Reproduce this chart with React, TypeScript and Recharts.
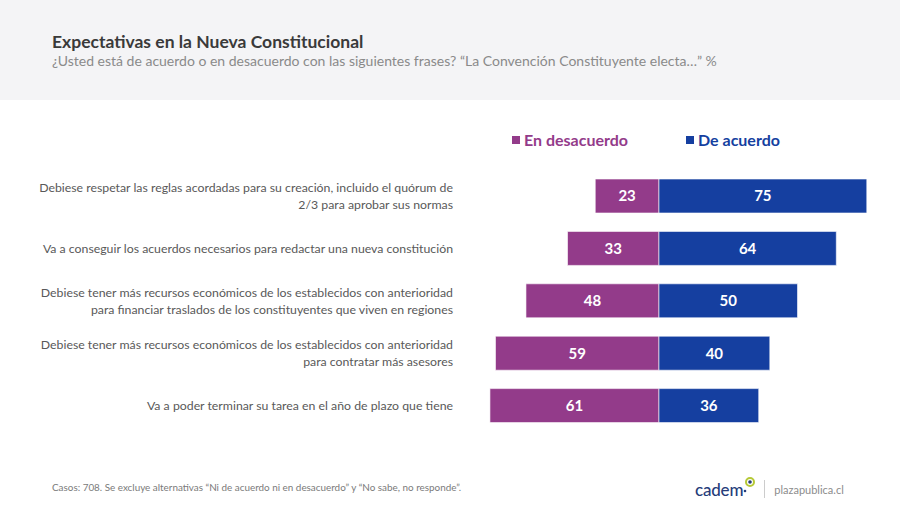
import React from 'react';
import { BarChart, Bar, XAxis, YAxis, LabelList, Legend } from 'recharts';

const categories: string[] = [
  'Debiese respetar las reglas acordadas para su creación, incluido el quórum de|2/3 para aprobar sus normas',
  'Va a conseguir los acuerdos necesarios para redactar una nueva constitución',
  'Debiese tener más recursos económicos de los establecidos con anterioridad|para financiar traslados de los constituyentes que viven en regiones',
  'Debiese tener más recursos económicos de los establecidos con anterioridad|para contratar más asesores',
  'Va a poder terminar su tarea en el año de plazo que tiene',
];
const desacuerdoValues: number[] = [23, 33, 48, 59, 61];
const acuerdoValues: number[] = [75, 64, 50, 40, 36];
const seriesNames = { desacuerdo: 'En desacuerdo', acuerdo: 'De acuerdo' };
const legendOrder = [seriesNames.desacuerdo, seriesNames.acuerdo];

const MAGENTA = '#933B8A';
const BLUE = '#153FA0';
const FONT = 'Lato, "Open Sans", sans-serif';

const data = categories.map((c, i) => ({
  name: c,
  desacuerdo: -desacuerdoValues[i],
  acuerdo: acuerdoValues[i],
}));

const CategoryTick = (props: any) => {
  const { x, y, payload } = props;
  const lines: string[] = String(payload.value).split('|');
  const lh = 17;
  const start = y - ((lines.length - 1) * lh) / 2;
  return (
    <text x={x - 4} y={start} textAnchor="end" fill="#595959" fontSize={12.3} fontFamily={FONT}>
      {lines.map((l, i) => (
        <tspan key={i} x={x - 4} y={start + i * lh} dy="0.36em">
          {l}
        </tspan>
      ))}
    </text>
  );
};

const LegendContent = (props: any) => {
  const payload = [...(props.payload || [])].sort(
    (a: any, b: any) => legendOrder.indexOf(a.value) - legendOrder.indexOf(b.value)
  );
  return (
    <div style={{ display: 'flex', fontFamily: FONT, fontWeight: 700, fontSize: 16 }}>
      {payload.map((p: any, i: number) => (
        <div key={i} style={{ display: 'flex', alignItems: 'center', marginRight: i === 0 ? 58 : 0, color: p.color }}>
          <span style={{ display: 'inline-block', width: 8, height: 8, background: p.color, marginRight: 4 }} />
          {p.value}
        </div>
      ))}
    </div>
  );
};

export default function App() {
  return (
    <div style={{ position: 'absolute', left: 0, top: 0, width: 900, height: 510, background: '#fff', overflow: 'hidden' }}>
      <div style={{ position: 'absolute', left: 0, top: 0, width: 900, height: 100, background: '#F4F4F6' }} />
      <div style={{ position: 'absolute', left: 52, top: 31, fontFamily: FONT, fontWeight: 700, fontSize: 17.5, color: '#3a3a3a' }}>
        Expectativas en la Nueva Constitucional
      </div>
      <div style={{ position: 'absolute', left: 52, top: 52, fontFamily: FONT, fontSize: 14, color: '#8a8a8a' }}>
        ¿Usted está de acuerdo o en desacuerdo con las siguientes frases? “La Convención Constituyente electa…” %
      </div>
      <div style={{ position: 'absolute', left: 0, top: 0 }}>
        <BarChart
          width={900}
          height={510}
          data={data}
          layout="vertical"
          stackOffset="sign"
          barCategoryGap={0}
          margin={{ top: 170, right: 5.5, bottom: 78, left: 0 }}
        >
          <XAxis type="number" domain={[-70, 85]} hide allowDataOverflow />
          <YAxis
            type="category"
            dataKey="name"
            width={465}
            axisLine={false}
            tickLine={false}
            tick={<CategoryTick />}
            interval={0}
          />
          <Legend
            verticalAlign="middle"
            align="center"
            layout="horizontal"
            content={<LegendContent />}
            wrapperStyle={{ position: 'absolute', top: 130, left: 512, width: 300 }}
          />
          <Bar
            dataKey="desacuerdo"
            name={seriesNames.desacuerdo}
            stackId="s"
            fill={MAGENTA}
            stroke="rgba(255,255,255,0.6)"
            strokeWidth={1}
            barSize={34}
            isAnimationActive={false}
          >
            <LabelList
              dataKey="desacuerdo"
              position="center"
              formatter={(v: any) => Math.abs(Number(v))}
              fill="#fff"
              fontSize={15}
              fontWeight={700}
              fontFamily={FONT}
            />
          </Bar>
          <Bar
            dataKey="acuerdo"
            name={seriesNames.acuerdo}
            stackId="s"
            fill={BLUE}
            stroke="rgba(255,255,255,0.6)"
            strokeWidth={1}
            barSize={34}
            isAnimationActive={false}
          >
            <LabelList
              dataKey="acuerdo"
              position="center"
              fill="#fff"
              fontSize={15}
              fontWeight={700}
              fontFamily={FONT}
            />
          </Bar>
        </BarChart>
      </div>
      <div style={{ position: 'absolute', left: 52, top: 481, fontFamily: FONT, fontSize: 9.9, color: '#7a7a7a' }}>
        Casos: 708. Se excluye alternativas “Ni de acuerdo ni en desacuerdo” y “No sabe, no responde”.
      </div>
      <div style={{ position: 'absolute', left: 695, top: 476, display: 'flex', alignItems: 'center', height: 26 }}>
        <span style={{ fontFamily: FONT, fontSize: 17, fontWeight: 500, color: '#263C7A', letterSpacing: -0.2 }}>cadem</span>
        <svg width={14} height={20} style={{ marginLeft: 0, marginTop: -8 }}>
          <circle cx={7} cy={7} r={4} fill="none" stroke="#B5C936" strokeWidth={2} />
          <circle cx={7} cy={7} r={1.8} fill="#263C7A" />
          <circle cx={2} cy={16} r={1.3} fill="#263C7A" />
        </svg>
        <span style={{ display: 'inline-block', width: 1, height: 18, background: '#cccccc', margin: '0 9px 0 7px' }} />
        <span style={{ fontFamily: FONT, fontSize: 11, color: '#8c8c8c' }}>plazapublica.cl</span>
      </div>
    </div>
  );
}
